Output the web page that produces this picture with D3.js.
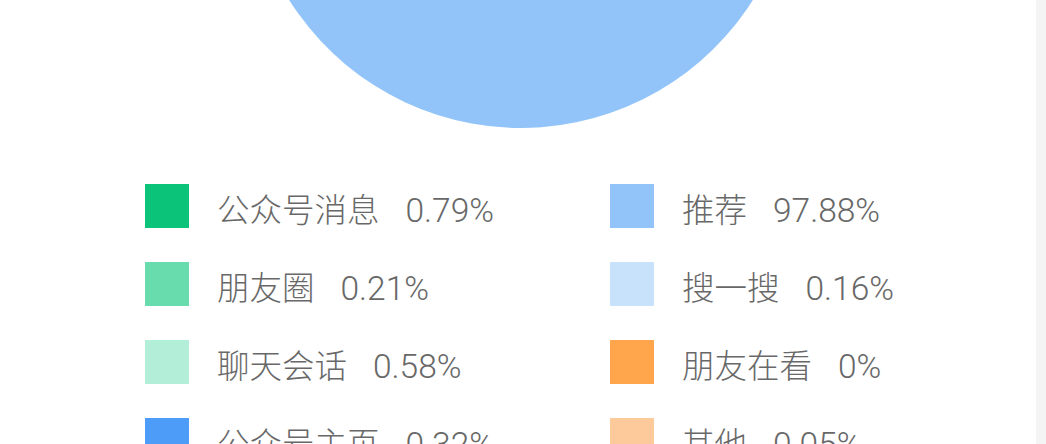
<!DOCTYPE html>
<html>
<head>
<meta charset="utf-8">
<script src="https://cdn.jsdelivr.net/npm/d3@7"></script>
<style>
  html, body { margin: 0; padding: 0; background: #fff; overflow: hidden; }
  #chart { width: 1046px; height: 444px; }
  .legend-text { font-family: Roboto, "Noto Sans CJK SC", sans-serif; font-size: 32.5px; font-weight: 300; fill: #686868; }
  .legend-value { font-size: 33.5px; }
</style>
</head>
<body>
<div id="chart"></div>
<script>
// traffic sources and their share (%)
const sources = ["公众号消息", "朋友圈", "聊天会话", "公众号主页", "推荐", "搜一搜", "朋友在看", "其他"];
const shares = [0.79, 0.21, 0.58, 0.32, 97.88, 0.16, 0, 0.05];
const shareLabels = ["0.79%", "0.21%", "0.58%", "0.32%", "97.88%", "0.16%", "0%", "0.05%"];
const colors = ["#0bc47a", "#68dcac", "#b2eed8", "#4d9cf8", "#92c4f9", "#c9e2fc", "#ffa64c", "#fdca9b"];

const width = 1046, height = 444;

const svg = d3.select("#chart").append("svg")
    .attr("width", width)
    .attr("height", height);

// faint grey strip at the right edge of the screenshot
svg.append("rect")
    .attr("x", 1036).attr("y", 0)
    .attr("width", 10).attr("height", height)
    .attr("fill", "#f4f4f4");

// pie (only the bottom is in view)
const pie = d3.pie().sort(null).value(d => d);
const arc = d3.arc().innerRadius(0).outerRadius(274);

const pieG = svg.append("g")
    .attr("transform", "translate(521,-146)");

pieG.selectAll("path")
    .data(pie(shares))
    .join("path")
    .attr("d", arc)
    .attr("fill", (d, i) => colors[i]);

// legend, two columns of four
const rowY = d3.scaleLinear().domain([0, 3]).range([184, 418]);
const colX = d3.scaleOrdinal().domain([0, 1]).range([145, 610]);
const box = 44;

const legend = svg.append("g").attr("class", "legend");

const items = legend.selectAll("g")
    .data(sources)
    .join("g")
    .attr("transform", (d, i) => `translate(${colX(Math.floor(i / 4))},${rowY(i % 4)})`);

items.append("rect")
    .attr("width", box)
    .attr("height", box)
    .attr("fill", (d, i) => colors[i]);

const txt = items.append("text")
    .attr("class", "legend-text")
    .attr("x", 72)
    .attr("y", box / 2 + 16);

txt.append("tspan").text(d => d);
txt.append("tspan")
    .attr("class", "legend-value")
    .attr("dx", 26)
    .text((d, i) => shareLabels[i]);
</script>
</body>
</html>
